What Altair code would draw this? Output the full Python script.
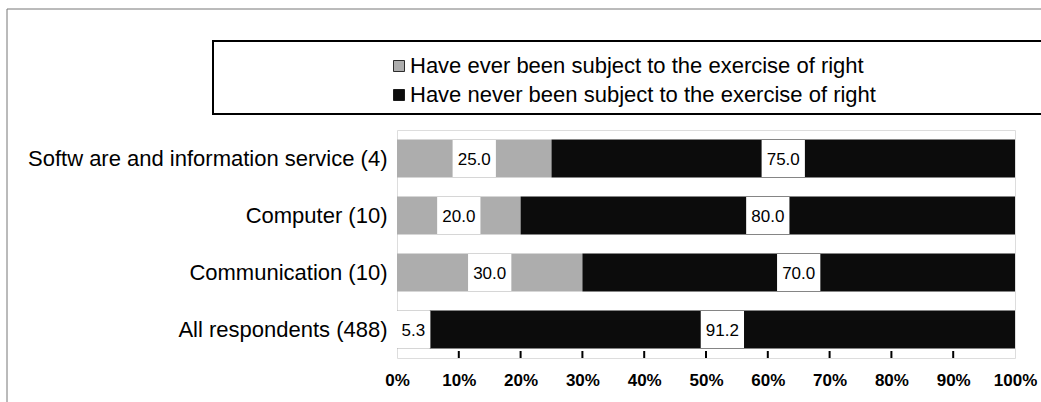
import altair as alt
import pandas as pd

categories = [
    "Softw are and information service (4)",
    "Computer (10)",
    "Communication (10)",
    "All respondents (488)",
]
ever = [25.0, 20.0, 30.0, 5.3]
never = [75.0, 80.0, 70.0, 91.2]
series = [
    "Have ever been subject to the exercise of right",
    "Have never been subject to the exercise of right",
]
tick_values = [0, 10, 20, 30, 40, 50, 60, 70, 80, 90, 100]
inner_ticks = [10, 20, 30, 40, 50, 60, 70, 80, 90]

W, H = 618, 228
FONT = "Liberation Sans, Arial, Helvetica, sans-serif"

rows = []
for c, e, n in zip(categories, ever, never):
    rows.append(dict(cat=c, series=series[0], start=0.0, end=e, label=f"{e:.1f}"))
    rows.append(dict(cat=c, series=series[1], start=e, end=100.0, label=f"{n:.1f}"))
df = pd.DataFrame(rows)
df["mid"] = (df["start"] + df["end"]) / 2
df["box"] = df["label"].map(
    lambda s: "M-1.17,-1L1.17,-1L1.17,1L-1.17,1Z" if len(s) > 3 else "M-0.92,-1L0.92,-1L0.92,1L-0.92,1Z"
)

xscale = alt.Scale(domain=[0, 100], nice=False)
yscale = alt.Scale(domain=categories, paddingInner=0.33, paddingOuter=0.165)
color = alt.Color(
    "series:N",
    scale=alt.Scale(domain=series, range=["#adadad", "#0c0c0c"]),
    legend=None,
)

bars = alt.Chart(df).mark_bar().encode(
    x=alt.X(
        "start:Q",
        scale=xscale,
        axis=alt.Axis(
            values=tick_values,
            labelExpr="datum.value + '%'",
            title=None,
            ticks=False,
            domain=False,
            grid=False,
            labelFont=FONT,
            labelFontWeight="bold",
            labelFontSize=17,
            labelColor="black",
            labelPadding=14,
            labelFlush=False,
            labelOverlap=False,
        ),
    ),
    x2="end:Q",
    y=alt.Y(
        "cat:N",
        scale=yscale,
        sort=categories,
        axis=alt.Axis(
            title=None,
            ticks=False,
            domain=False,
            grid=False,
            labelFont=FONT,
            labelFontSize=22,
            labelColor="black",
            labelPadding=10,
            labelLimit=420,
        ),
    ),
    color=color,
)

tick_df = pd.DataFrame({"t": inner_ticks})
ticks = alt.Chart(tick_df).mark_rule(color="black", strokeWidth=2).encode(
    x=alt.X("t:Q", scale=xscale),
    y=alt.value(H - 7),
    y2=alt.value(H),
)

boxes = alt.Chart(df).mark_point(filled=True, color="white", opacity=1, size=1369).encode(
    x=alt.X("mid:Q", scale=xscale),
    y=alt.Y("cat:N", scale=yscale, sort=categories),
    shape=alt.Shape("box:N", scale=None),
)
labels = alt.Chart(df).mark_text(
    font=FONT, fontSize=17, color="black", dy=1
).encode(
    x=alt.X("mid:Q", scale=xscale),
    y=alt.Y("cat:N", scale=yscale, sort=categories),
    text="label:N",
)

# decorations: outer frame and legend box
deco = pd.DataFrame({"k": [0]})
frame_left = alt.Chart(deco).mark_rule(color="#777777", strokeWidth=1).encode(
    x=alt.value(-390), y=alt.value(-121), y2=alt.value(H + 50)
)
frame_top = alt.Chart(deco).mark_rule(color="#777777", strokeWidth=1).encode(
    x=alt.value(-390), x2=alt.value(W + 40), y=alt.value(-121)
)
legend_box = alt.Chart(deco).mark_rect(fill="white", stroke="black", strokeWidth=2).encode(
    x=alt.value(-184), x2=alt.value(W + 40), y=alt.value(-89), y2=alt.value(-16)
)
leg_df = pd.DataFrame({"series": series, "yy": [-64, -35]})
leg_sw = alt.Chart(leg_df).mark_square(size=121, opacity=1, stroke="black", strokeWidth=0.8).encode(
    x=alt.value(2),
    y=alt.Y("yy:Q", scale=None),
    color=color,
)
leg_tx = alt.Chart(leg_df).mark_text(
    align="left", baseline="middle", font=FONT, fontSize=22, color="black"
).encode(
    x=alt.value(13),
    y=alt.Y("yy:Q", scale=None),
    text="series:N",
)

chart = alt.layer(
    frame_left, frame_top, legend_box, leg_sw, leg_tx, bars, ticks, boxes, labels
).properties(
    width=W,
    height=H,
    autosize=alt.AutoSizeParams(type="none"),
    padding={"left": 397, "top": 130, "right": 26, "bottom": 44},
).configure_view(
    stroke="black", strokeWidth=1.5
).configure(background="white")

chart.save("out.html", embed_options={"renderer": "svg", "actions": False})
